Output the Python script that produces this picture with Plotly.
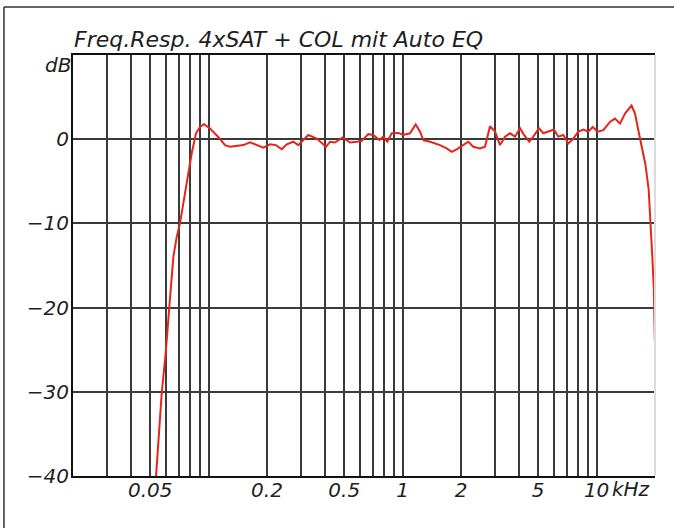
import plotly.graph_objects as go

# ---- data ----
freq_khz = [0.0525, 0.0536, 0.0573, 0.0601, 0.0627, 0.0658, 0.0685, 0.0712, 0.0765, 0.0818,
            0.0861, 0.0903, 0.0947, 0.1017, 0.1122, 0.1215, 0.1289, 0.1396, 0.1510, 0.1635,
            0.1770, 0.1914, 0.2073, 0.2226, 0.2382, 0.2528, 0.2732, 0.2900, 0.3078, 0.3266,
            0.3608, 0.4030, 0.4224, 0.4482, 0.4912, 0.5356, 0.5800, 0.6154, 0.6656, 0.7062,
            0.7586, 0.7954, 0.8340, 0.8788, 0.9504, 1.008, 1.092, 1.168, 1.230, 1.279,
            1.384, 1.469, 1.559, 1.688, 1.791, 1.900, 2.056, 2.180, 2.314, 2.506,
            2.660, 2.822, 2.996, 3.178, 3.373, 3.578, 3.796, 4.030, 4.224, 4.498,
            4.718, 5.050, 5.314, 5.636, 6.030, 6.346, 6.734, 7.148, 7.586, 8.048,
            8.542, 9.064, 9.550, 10.13, 10.83, 11.72, 12.44, 13.20, 14.01, 15.14,
            15.78, 16.41, 16.84, 17.85, 18.56, 18.94, 19.33, 19.72, 19.96]
level_db = [-42.0, -40.0, -30.2, -25.4, -20.0, -14.0, -11.6, -10.0, -5.7, -1.7,
            0.7, 1.46, 1.78, 1.27, 0.27, -0.71, -0.9, -0.8, -0.7, -0.36,
            -0.7, -1.0, -0.6, -0.7, -1.2, -0.6, -0.3, -0.7, -0.1, 0.5,
            0.08, -0.9, -0.3, -0.4, 0.2, -0.4, -0.3, -0.2, 0.6, 0.5,
            -0.1, 0.3, -0.3, 0.7, 0.75, 0.5, 0.7, 1.75, 0.9, -0.1,
            -0.3, -0.5, -0.7, -1.1, -1.5, -1.2, -0.7, -0.3, -0.9, -1.1,
            -0.9, 1.55, 0.9, -0.7, 0.3, 0.7, 0.3, 1.3, 0.5, -0.3,
            0.3, 1.3, 0.7, 0.9, 1.15, 0.3, 0.5, -0.5, 0.08, 0.9,
            1.15, 0.9, 1.45, 0.9, 1.07, 2.05, 2.45, 1.85, 3.05, 4.0,
            3.05, 1.07, -0.1, -3.0, -6.0, -9.2, -13.6, -17.6, -24.0]

x_grid = [0.03, 0.04, 0.05, 0.06, 0.07, 0.08, 0.09, 0.1,
          0.2, 0.3, 0.4, 0.5, 0.6, 0.7, 0.8, 0.9, 1,
          2, 3, 4, 5, 6, 7, 8, 9, 10]
x_labels = ["", "", "0.05", "", "", "", "", "",
            "0.2", "", "", "0.5", "", "", "", "", "1",
            "2", "", "", "5", "", "", "", "", "10"]
y_ticks = [-40, -30, -20, -10, 0, 10]
y_labels = ["\u221240", "\u221230", "\u221220", "\u221210", "0", ""]
title_text = "Freq.Resp. 4xSAT + COL mit Auto EQ"

FONT = "DejaVu Sans"
TXT = "#1e1e1e"
GRID = "#3a3a3a"

fig = go.Figure()
fig.add_trace(go.Scatter(x=freq_khz, y=level_db, mode="lines",
                         line=dict(color="#e3261b", width=2), hoverinfo="skip",
                         showlegend=False))

fig.update_layout(
    width=674, height=528,
    margin=dict(l=73, r=19, t=55, b=52, pad=0),
    paper_bgcolor="white", plot_bgcolor="white",
    showlegend=False,
    xaxis=dict(type="log", range=[-1.69897, 1.30103],
               tickmode="array", tickvals=x_grid, ticktext=x_labels,
               showgrid=True, gridcolor=GRID, gridwidth=1.6,
               showline=True, linecolor="#111", linewidth=2, mirror=True,
               ticks="", zeroline=False, ticklabelstandoff=-5,
               tickfont=dict(family=FONT, size=20, color=TXT, style="italic")),
    yaxis=dict(range=[-40, 10], tickmode="array", tickvals=y_ticks, ticktext=y_labels,
               showgrid=True, gridcolor=GRID, gridwidth=1.6,
               showline=True, linecolor="#111", linewidth=2,
               ticks="", zeroline=False, ticklabelstandoff=-2,
               tickfont=dict(family=FONT, size=20, color=TXT, style="italic")),
)

# right edge of plot area (light)
fig.add_shape(type="line", xref="paper", yref="paper", x0=1, x1=1, y0=0, y1=1,
              line=dict(color="#dcdcdc", width=2))
# outer frame (top and left)
fig.add_shape(type="line", xref="paper", yref="paper", x0=-0.1186, x1=1.05, y0=1.114, y1=1.114,
              line=dict(color="#333", width=1.5))
fig.add_shape(type="line", xref="paper", yref="paper", x0=-0.1186, x1=-0.1186, y0=-0.2, y1=1.114,
              line=dict(color="#333", width=1.5))

fig.add_annotation(text=title_text, xref="paper", yref="paper", x=-0.002, y=1.038,
                   xanchor="left", yanchor="middle", showarrow=False,
                   font=dict(family=FONT, size=22, color=TXT, style="italic"))
fig.add_annotation(text="dB", xref="paper", yref="y", x=0, y=8.8,
                   xanchor="right", yanchor="middle", showarrow=False, xshift=0,
                   font=dict(family=FONT, size=20, color=TXT, style="italic"))
fig.add_annotation(text="kHz", xref="paper", yref="paper", x=0.922, y=0,
                   xanchor="left", yanchor="top", showarrow=False, yshift=1,
                   font=dict(family=FONT, size=20, color=TXT, style="italic"))

fig.write_html("out.html", config={"displayModeBar": False},
               post_script="document.body.style.margin='0';document.body.style.overflow='hidden';")
